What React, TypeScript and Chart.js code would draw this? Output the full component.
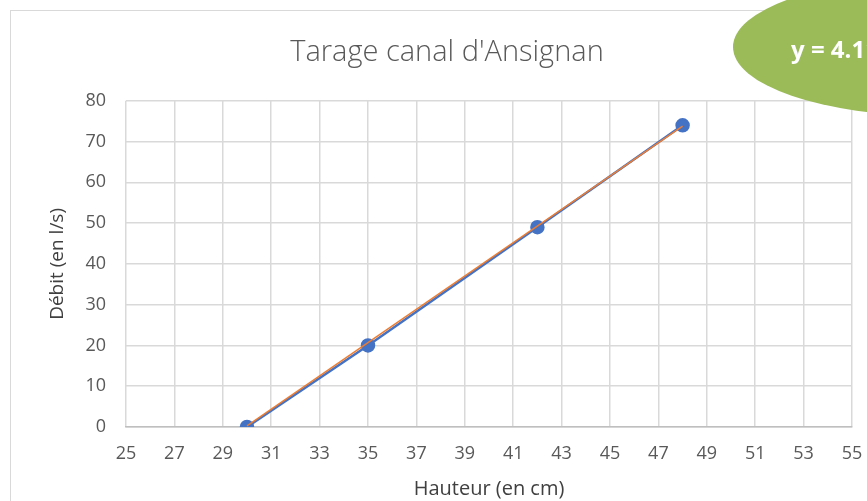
import React, { useEffect, useRef } from "react";
import { Chart, registerables } from "chart.js";

Chart.register(...registerables);

const hauteur = [30, 35, 42, 48];
const debit = [0, 20, 49, 74];
const trendX = [30, 48];
const trendY = [0.3, 73.8];
const equationText = "y = 4.1165x - 123.76";

const FONT = "'Open Sans', sans-serif";
const GRAY = "#595959";

export default function App() {
  const ref = useRef<HTMLCanvasElement>(null);
  useEffect(() => {
    document.body.style.margin = "0";
    const ctx = ref.current!.getContext("2d")!;
    const chart = new Chart(ctx, {
      type: "scatter",
      data: {
        datasets: [
          {
            label: "Débit",
            data: hauteur.map((x, i) => ({ x, y: debit[i] })),
            showLine: true,
            borderColor: "#4472C4",
            backgroundColor: "#4472C4",
            borderWidth: 2.5,
            pointRadius: 6,
            pointHoverRadius: 6,
            order: 2,
          },
          {
            label: "Linéaire (Débit)",
            data: trendX.map((x, i) => ({ x, y: trendY[i] })),
            showLine: true,
            borderColor: "#ED7D31",
            borderWidth: 1.5,
            pointRadius: 0,
            order: 1,
          },
        ],
      },
      options: {
        animation: false,
        responsive: false,
        layout: { padding: { left: 42, right: 15, top: 0, bottom: 0 } },
        plugins: {
          legend: { display: false },
          tooltip: { enabled: false },
          title: {
            display: true,
            text: "Tarage canal d'Ansignan",
            color: GRAY,
            font: { family: FONT, size: 29, weight: 300 },
            padding: { top: 35, bottom: 31 },
          },
        },
        scales: {
          x: {
            type: "linear",
            min: 25,
            max: 55,
            afterBuildTicks: (s: any) => {
              const t = [];
              for (let v = 25; v <= 55; v += 2) t.push({ value: v });
              s.ticks = t;
            },
            afterFit: (s: any) => {
              s.height = 501 - 427;
              s.paddingLeft = 0;
              s.paddingRight = 0;
            },
            grid: { color: "#d9d9d9", lineWidth: 1.5, drawTicks: false },
            border: { color: "#bfbfbf", width: 1.5 },
            ticks: { color: GRAY, font: { family: FONT, size: 18 }, padding: 16, maxRotation: 0, autoSkip: false },
            title: {
              display: true,
              text: "Hauteur (en cm)",
              color: "#404040",
              font: { family: FONT, size: 20 },
              padding: 0,
            },
          },
          y: {
            min: 0,
            max: 80,
            ticks: { stepSize: 10, color: GRAY, font: { family: FONT, size: 18 }, padding: 20 },
            afterFit: (s: any) => {
              s.width = 126 - 42;
            },
            grid: { color: "#d9d9d9", lineWidth: 1.5, drawTicks: false },
            border: { display: false },
            title: {
              display: true,
              text: "Débit (en l/s)",
              color: "#404040",
              font: { family: FONT, size: 19 },
              padding: 4,
            },
          },
        },
      },
    });
    return () => chart.destroy();
  }, []);
  return (
    <div style={{ position: "fixed", left: 0, top: 0, width: 867, height: 501, overflow: "hidden", background: "#fff" }}>
      <div style={{ position: "absolute", left: 10, top: 10, width: 900, height: 560, border: "1.5px solid #d9d9d9" }} />
      <canvas ref={ref} width={867} height={501} style={{ position: "absolute", left: 0, top: 0 }} />
      <div
        style={{
          position: "absolute",
          left: 733,
          top: -22,
          width: 400,
          height: 138,
          borderRadius: "50%",
          background: "#9BBB59",
        }}
      >
        <div
          style={{
            position: "absolute",
            left: 58,
            top: 56,
            color: "#fff",
            fontFamily: FONT,
            fontWeight: "bold",
            fontSize: 24,
            whiteSpace: "nowrap",
            lineHeight: "30px",
          }}
        >
          {equationText}
        </div>
      </div>
    </div>
  );
}
